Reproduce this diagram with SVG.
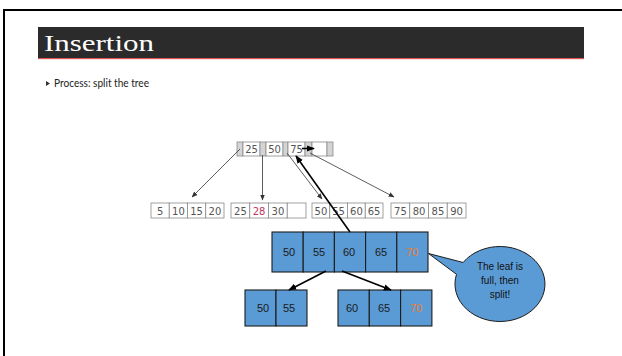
<svg xmlns="http://www.w3.org/2000/svg" width="622" height="356" viewBox="0 0 622 356">
  <defs>
    <marker id="thin" viewBox="0 0 10 10" refX="9" refY="5" markerWidth="6" markerHeight="6" orient="auto" markerUnits="userSpaceOnUse">
      <path d="M0,1 L10,5 L0,9 z" fill="#333"/>
    </marker>
    <marker id="bold" viewBox="0 0 10 10" refX="9" refY="5" markerWidth="8" markerHeight="8" orient="auto" markerUnits="userSpaceOnUse">
      <path d="M0,1 L10,5 L0,9 z" fill="#000"/>
    </marker>
  </defs>
  <style>
    .key { fill: #ffffff; stroke: #8a8a8a; stroke-width: 0.8; }
    .ptr { fill: #d4d4d4; stroke: #8a8a8a; stroke-width: 0.8; }
    .kt { font-family: "DejaVu Sans", sans-serif; font-size: 10px; fill: #555; text-anchor: middle; }
    .red { fill: #c2335f; }
    .blue { fill: #5b9bd5; stroke: #1c1c1c; stroke-width: 1.1; }
    .bt { font-family: "Liberation Sans", Arial, sans-serif; font-size: 11px; fill: #1a1a1a; text-anchor: middle; }
    .orange { fill: #ed7d31; }
    .thin { stroke: #333; stroke-width: 0.8; fill: none; marker-end: url(#thin); }
    .heavy { stroke: #000; stroke-width: 1.6; fill: none; marker-end: url(#bold); }
  </style>

  <rect width="622" height="356" fill="#ffffff"/>
  <!-- slide frame -->
  <path d="M623,10 H4 V357" fill="none" stroke="#000" stroke-width="2"/>

  <!-- title bar -->
  <rect x="38" y="27" width="546" height="31" fill="#2b2b2b"/>
  <rect x="38" y="58" width="546" height="1.2" fill="#e05555"/>
  <text x="44" y="51" font-family="Liberation Serif, serif" font-size="23" fill="#ffffff" textLength="110" lengthAdjust="spacingAndGlyphs">Insertion</text>

  <!-- bullet -->
  <path d="M46,81 L50,83.5 L46,86 z" fill="#333"/>
  <text x="54" y="87" font-family="Lato, sans-serif" font-size="10.5" fill="#222" textLength="95" lengthAdjust="spacingAndGlyphs">Process: split the tree</text>

  <!-- root node -->
  <g id="root">
    <rect class="ptr" x="237" y="142" width="6" height="14"/>
    <rect class="key" x="243" y="142" width="17" height="14"/>
    <rect class="ptr" x="260" y="142" width="6" height="14"/>
    <rect class="key" x="266" y="142" width="17" height="14"/>
    <rect class="ptr" x="283" y="142" width="5" height="14"/>
    <rect class="key" x="288" y="142" width="17" height="14"/>
    <rect class="ptr" x="305" y="142" width="7" height="14"/>
    <rect class="key" x="312" y="142" width="15" height="14"/>
    <rect class="ptr" x="327" y="142" width="6" height="14"/>
    <text class="kt" x="251.5" y="153">25</text>
    <text class="kt" x="274.5" y="153">50</text>
    <text class="kt" x="296.5" y="153">75</text>
  </g>

  <!-- leaf 1 -->
  <g id="leaf1">
    <rect class="key" x="151" y="203" width="18.25" height="15"/>
    <rect class="key" x="169.25" y="203" width="18.25" height="15"/>
    <rect class="key" x="187.5" y="203" width="18.25" height="15"/>
    <rect class="key" x="205.75" y="203" width="18.25" height="15"/>
    <text class="kt" x="160.1" y="214.5">5</text>
    <text class="kt" x="178.4" y="214.5">10</text>
    <text class="kt" x="196.6" y="214.5">15</text>
    <text class="kt" x="214.9" y="214.5">20</text>
  </g>

  <!-- leaf 2 -->
  <g id="leaf2">
    <rect class="key" x="231" y="203" width="18.75" height="15"/>
    <rect class="key" x="249.75" y="203" width="18.75" height="15"/>
    <rect class="key" x="268.5" y="203" width="18.75" height="15"/>
    <rect class="key" x="287.25" y="203" width="18.75" height="15"/>
    <text class="kt" x="240.4" y="214.5">25</text>
    <text class="kt red" x="259.1" y="214.5">28</text>
    <text class="kt" x="277.9" y="214.5">30</text>
  </g>

  <!-- leaf 3 -->
  <g id="leaf3">
    <rect class="key" x="312" y="203" width="17.75" height="15"/>
    <rect class="key" x="329.75" y="203" width="17.75" height="15"/>
    <rect class="key" x="347.5" y="203" width="17.75" height="15"/>
    <rect class="key" x="365.25" y="203" width="17.75" height="15"/>
    <text class="kt" x="320.9" y="214.5">50</text>
    <text class="kt" x="338.6" y="214.5">55</text>
    <text class="kt" x="356.4" y="214.5">60</text>
    <text class="kt" x="374.1" y="214.5">65</text>
  </g>

  <!-- leaf 4 -->
  <g id="leaf4">
    <rect class="key" x="391" y="203" width="18.75" height="15"/>
    <rect class="key" x="409.75" y="203" width="18.75" height="15"/>
    <rect class="key" x="428.5" y="203" width="18.75" height="15"/>
    <rect class="key" x="447.25" y="203" width="18.75" height="15"/>
    <text class="kt" x="400.4" y="214.5">75</text>
    <text class="kt" x="419.1" y="214.5">80</text>
    <text class="kt" x="437.9" y="214.5">85</text>
    <text class="kt" x="456.6" y="214.5">90</text>
  </g>

  <!-- full leaf before the split -->
  <g id="full-leaf">
    <rect class="blue" x="272" y="232" width="31.2" height="40"/>
    <rect class="blue" x="303.2" y="232" width="31.2" height="40"/>
    <rect class="blue" x="334.4" y="232" width="31.2" height="40"/>
    <rect class="blue" x="365.6" y="232" width="31.2" height="40"/>
    <rect class="blue" x="396.8" y="232" width="31.2" height="40"/>
    <text class="bt" x="289" y="256">50</text>
    <text class="bt" x="319" y="256">55</text>
    <text class="bt" x="349" y="256">60</text>
    <text class="bt" x="381" y="256">65</text>
    <text class="bt orange" x="412" y="256">70</text>
  </g>

  <!-- halves after the split -->
  <g id="left-half">
    <rect class="blue" x="245" y="290" width="31" height="36"/>
    <rect class="blue" x="276" y="290" width="31" height="36"/>
    <text class="bt" x="263" y="312">50</text>
    <text class="bt" x="289" y="312">55</text>
  </g>
  <g id="right-half">
    <rect class="blue" x="338" y="290" width="31.3" height="36"/>
    <rect class="blue" x="369.3" y="290" width="31.3" height="36"/>
    <rect class="blue" x="400.6" y="290" width="31.3" height="36"/>
    <text class="bt" x="352" y="312">60</text>
    <text class="bt" x="384" y="312">65</text>
    <text class="bt orange" x="416" y="312">70</text>
  </g>

  <!-- callout: ellipse centred at (500,284), rx 45, ry 37.5, tail to the full leaf -->
  <g id="callout">
    <path d="M428.5,253.5 L463.1,262.5 A45,37.5 0 1 1 456.5,274.3 Z" fill="#5b9bd5" stroke="#1c1c1c" stroke-width="1"/>
    <g font-family="Liberation Sans, Arial, sans-serif" font-size="10" fill="#111" text-anchor="middle">
      <text x="500" y="270">The leaf is</text>
      <text x="500" y="284">full, then</text>
      <text x="500" y="298">split!</text>
    </g>
  </g>

  <!-- connectors -->
  <g id="connectors">
    <line class="thin" x1="240" y1="149" x2="192" y2="197"/>
    <line class="thin" x1="262.5" y1="155" x2="262.5" y2="200"/>
    <line class="thin" x1="287" y1="153" x2="322" y2="199"/>
    <line class="thin" x1="310" y1="153" x2="394" y2="197"/>
    <line class="heavy" x1="302" y1="148.5" x2="314" y2="148.5"/>
    <line class="heavy" x1="350" y1="232" x2="296" y2="156"/>
    <line class="heavy" x1="326" y1="271" x2="289" y2="290"/>
    <line class="heavy" x1="342" y1="271" x2="391" y2="290"/>
  </g>
</svg>
